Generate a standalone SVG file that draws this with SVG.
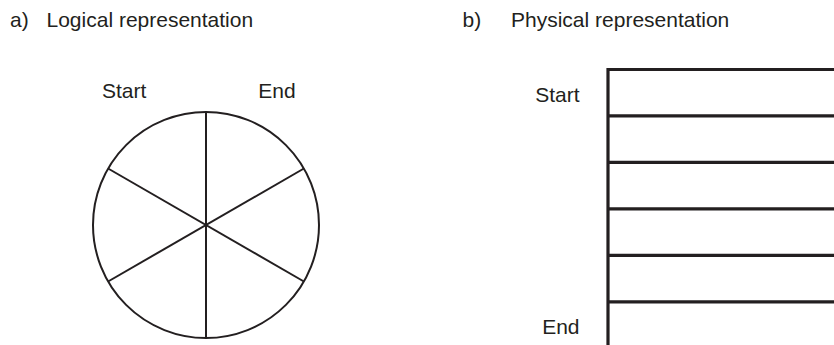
<svg xmlns="http://www.w3.org/2000/svg" width="834" height="345" viewBox="0 0 834 345">
<style>
text{font-family:"Liberation Sans",Arial,sans-serif;font-size:21px;fill:#231f20}
.thin{fill:none;stroke:#231f20;stroke-width:2}
.thick{fill:none;stroke:#231f20;stroke-width:3.2}
</style>
<rect width="834" height="345" fill="#fff"/>
<g id="titles">
<text x="10" y="26.5">a)</text>
<text x="46.5" y="26.5">Logical representation</text>
<text x="462.5" y="26.5">b)</text>
<text x="511" y="26.5">Physical representation</text>
</g>
<g id="logical">
<circle class="thin" cx="206" cy="225" r="113"/>
<line class="thin" x1="206" y1="112" x2="206" y2="338"/>
<line class="thin" x1="108.1" y1="168.5" x2="303.9" y2="281.5"/>
<line class="thin" x1="108.1" y1="281.5" x2="303.9" y2="168.5"/>
<text x="102" y="97.5">Start</text>
<text x="258.3" y="97.5">End</text>
</g>
<g id="physical">
<path class="thick" d="M608,345 V69.5 H836"/>
<line class="thick" x1="608" y1="115.8" x2="836" y2="115.8"/>
<line class="thick" x1="608" y1="162.3" x2="836" y2="162.3"/>
<line class="thick" x1="608" y1="208.8" x2="836" y2="208.8"/>
<line class="thick" x1="608" y1="255.3" x2="836" y2="255.3"/>
<line class="thick" x1="608" y1="301.8" x2="836" y2="301.8"/>
<text x="579.5" y="102.3" text-anchor="end">Start</text>
<text x="579.5" y="334" text-anchor="end">End</text>
</g>
</svg>
